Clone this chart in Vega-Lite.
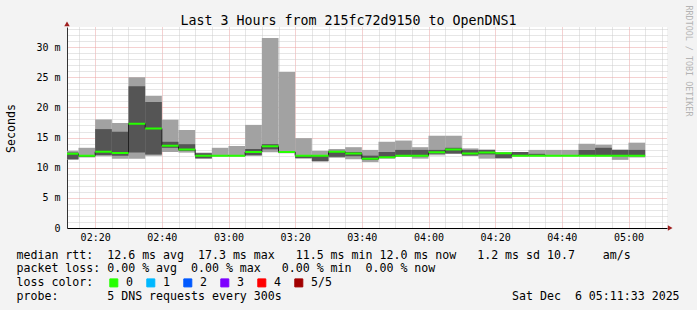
{
  "$schema": "https://vega.github.io/schema/vega-lite/v6.json",
  "width": 600,
  "height": 201,
  "autosize": {"type": "none"},
  "padding": {"left": 67, "top": 27, "right": 30, "bottom": 82},
  "background": "#f3f3f3",
  "config": {"view": {"fill": "#ffffff", "stroke": null}, "font": "DejaVu Sans Mono"},
  "data": {"values": [
    {"t": "2025-12-06T02:10:00", "e": "2025-12-06T02:15:00", "lo": 11.3, "q1": 11.4, "med": 12.3, "q3": 12.5, "hi": 12.8, "loss": "0"},
    {"t": "2025-12-06T02:15:00", "e": "2025-12-06T02:20:00", "lo": 11.7, "q1": 11.8, "med": 12.0, "q3": 12.1, "hi": 13.3, "loss": "0"},
    {"t": "2025-12-06T02:20:00", "e": "2025-12-06T02:25:00", "lo": 11.9, "q1": 12.1, "med": 12.65, "q3": 16.4, "hi": 18.0, "loss": "0"},
    {"t": "2025-12-06T02:25:00", "e": "2025-12-06T02:30:00", "lo": 11.5, "q1": 12.0, "med": 12.45, "q3": 15.95, "hi": 17.4, "loss": "0"},
    {"t": "2025-12-06T02:30:00", "e": "2025-12-06T02:35:00", "lo": 11.5, "q1": 12.5, "med": 17.3, "q3": 23.5, "hi": 25.0, "loss": "0"},
    {"t": "2025-12-06T02:35:00", "e": "2025-12-06T02:40:00", "lo": 12.0, "q1": 12.2, "med": 16.5, "q3": 20.9, "hi": 21.9, "loss": "0"},
    {"t": "2025-12-06T02:40:00", "e": "2025-12-06T02:45:00", "lo": 12.6, "q1": 13.3, "med": 13.65, "q3": 14.3, "hi": 17.95, "loss": "0"},
    {"t": "2025-12-06T02:45:00", "e": "2025-12-06T02:50:00", "lo": 12.5, "q1": 12.8, "med": 13.0, "q3": 13.9, "hi": 16.25, "loss": "0"},
    {"t": "2025-12-06T02:50:00", "e": "2025-12-06T02:55:00", "lo": 11.5, "q1": 11.55, "med": 12.0, "q3": 12.4, "hi": 12.5, "loss": "0"},
    {"t": "2025-12-06T02:55:00", "e": "2025-12-06T03:00:00", "lo": 11.9, "q1": 11.95, "med": 12.0, "q3": 12.1, "hi": 13.3, "loss": "0"},
    {"t": "2025-12-06T03:00:00", "e": "2025-12-06T03:05:00", "lo": 11.9, "q1": 11.95, "med": 12.0, "q3": 12.05, "hi": 13.6, "loss": "0"},
    {"t": "2025-12-06T03:05:00", "e": "2025-12-06T03:10:00", "lo": 12.0, "q1": 12.05, "med": 12.6, "q3": 13.1, "hi": 17.1, "loss": "0"},
    {"t": "2025-12-06T03:10:00", "e": "2025-12-06T03:15:00", "lo": 12.55, "q1": 13.05, "med": 13.55, "q3": 13.9, "hi": 31.5, "loss": "0"},
    {"t": "2025-12-06T03:15:00", "e": "2025-12-06T03:20:00", "lo": 12.4, "q1": 12.45, "med": 12.6, "q3": 12.7, "hi": 25.85, "loss": "0"},
    {"t": "2025-12-06T03:20:00", "e": "2025-12-06T03:25:00", "lo": 11.5, "q1": 11.6, "med": 12.0, "q3": 12.1, "hi": 14.9, "loss": "0"},
    {"t": "2025-12-06T03:25:00", "e": "2025-12-06T03:30:00", "lo": 11.0, "q1": 11.1, "med": 12.0, "q3": 12.1, "hi": 12.8, "loss": "0"},
    {"t": "2025-12-06T03:30:00", "e": "2025-12-06T03:35:00", "lo": 11.65, "q1": 11.8, "med": 12.65, "q3": 12.8, "hi": 13.1, "loss": "0"},
    {"t": "2025-12-06T03:35:00", "e": "2025-12-06T03:40:00", "lo": 11.4, "q1": 11.9, "med": 12.35, "q3": 12.6, "hi": 13.4, "loss": "0"},
    {"t": "2025-12-06T03:40:00", "e": "2025-12-06T03:45:00", "lo": 10.95, "q1": 11.3, "med": 11.5, "q3": 12.0, "hi": 12.95, "loss": "0"},
    {"t": "2025-12-06T03:45:00", "e": "2025-12-06T03:50:00", "lo": 11.5, "q1": 11.6, "med": 11.75, "q3": 12.6, "hi": 14.3, "loss": "0"},
    {"t": "2025-12-06T03:50:00", "e": "2025-12-06T03:55:00", "lo": 11.85, "q1": 11.9, "med": 12.0, "q3": 12.95, "hi": 14.5, "loss": "0"},
    {"t": "2025-12-06T03:55:00", "e": "2025-12-06T04:00:00", "lo": 11.5, "q1": 11.9, "med": 12.0, "q3": 12.95, "hi": 13.4, "loss": "0"},
    {"t": "2025-12-06T04:00:00", "e": "2025-12-06T04:05:00", "lo": 12.05, "q1": 12.3, "med": 12.55, "q3": 12.95, "hi": 15.3, "loss": "0"},
    {"t": "2025-12-06T04:05:00", "e": "2025-12-06T04:10:00", "lo": 12.3, "q1": 12.35, "med": 13.0, "q3": 13.3, "hi": 15.3, "loss": "0"},
    {"t": "2025-12-06T04:10:00", "e": "2025-12-06T04:15:00", "lo": 12.0, "q1": 12.0, "med": 12.35, "q3": 12.95, "hi": 13.2, "loss": "0"},
    {"t": "2025-12-06T04:15:00", "e": "2025-12-06T04:20:00", "lo": 11.5, "q1": 12.2, "med": 12.5, "q3": 12.95, "hi": 13.0, "loss": "0"},
    {"t": "2025-12-06T04:20:00", "e": "2025-12-06T04:25:00", "lo": 11.5, "q1": 11.6, "med": 12.4, "q3": 12.45, "hi": 12.5, "loss": "0"},
    {"t": "2025-12-06T04:25:00", "e": "2025-12-06T04:30:00", "lo": 11.9, "q1": 11.95, "med": 12.0, "q3": 12.6, "hi": 12.6, "loss": "0"},
    {"t": "2025-12-06T04:30:00", "e": "2025-12-06T04:35:00", "lo": 11.95, "q1": 12.0, "med": 12.0, "q3": 12.3, "hi": 12.95, "loss": "0"},
    {"t": "2025-12-06T04:35:00", "e": "2025-12-06T04:40:00", "lo": 11.95, "q1": 12.0, "med": 12.0, "q3": 12.05, "hi": 12.95, "loss": "0"},
    {"t": "2025-12-06T04:40:00", "e": "2025-12-06T04:45:00", "lo": 11.95, "q1": 12.0, "med": 12.0, "q3": 12.05, "hi": 12.95, "loss": "0"},
    {"t": "2025-12-06T04:45:00", "e": "2025-12-06T04:50:00", "lo": 11.95, "q1": 12.0, "med": 12.0, "q3": 12.95, "hi": 13.95, "loss": "0"},
    {"t": "2025-12-06T04:50:00", "e": "2025-12-06T04:55:00", "lo": 11.95, "q1": 12.0, "med": 12.0, "q3": 13.3, "hi": 13.8, "loss": "0"},
    {"t": "2025-12-06T04:55:00", "e": "2025-12-06T05:00:00", "lo": 11.3, "q1": 11.95, "med": 12.0, "q3": 12.95, "hi": 13.0, "loss": "0"},
    {"t": "2025-12-06T05:00:00", "e": "2025-12-06T05:05:00", "lo": 11.7, "q1": 11.9, "med": 12.0, "q3": 12.95, "hi": 14.15, "loss": "0"}
  ]},
  "resolve": {"axis": {"x": "independent", "y": "independent"}},
  "layer": [
    {
      "mark": {"type": "rect", "color": "#a2a2a2", "clip": true},
      "encoding": {
        "x": {"field": "t", "type": "temporal",
          "scale": {"domain": [{"year": 2025, "month": 12, "date": 6, "hours": 2, "minutes": 11, "seconds": 33}, {"year": 2025, "month": 12, "date": 6, "hours": 5, "minutes": 11, "seconds": 33}], "nice": false},
          "axis": {"orient": "top",
            "values": [
              {"year": 2025, "month": 12, "date": 6, "hours": 2, "minutes": 15},
              {"year": 2025, "month": 12, "date": 6, "hours": 2, "minutes": 25},
              {"year": 2025, "month": 12, "date": 6, "hours": 2, "minutes": 30},
              {"year": 2025, "month": 12, "date": 6, "hours": 2, "minutes": 35},
              {"year": 2025, "month": 12, "date": 6, "hours": 2, "minutes": 45},
              {"year": 2025, "month": 12, "date": 6, "hours": 2, "minutes": 50},
              {"year": 2025, "month": 12, "date": 6, "hours": 2, "minutes": 55},
              {"year": 2025, "month": 12, "date": 6, "hours": 3, "minutes": 5},
              {"year": 2025, "month": 12, "date": 6, "hours": 3, "minutes": 10},
              {"year": 2025, "month": 12, "date": 6, "hours": 3, "minutes": 15},
              {"year": 2025, "month": 12, "date": 6, "hours": 3, "minutes": 25},
              {"year": 2025, "month": 12, "date": 6, "hours": 3, "minutes": 30},
              {"year": 2025, "month": 12, "date": 6, "hours": 3, "minutes": 35},
              {"year": 2025, "month": 12, "date": 6, "hours": 3, "minutes": 45},
              {"year": 2025, "month": 12, "date": 6, "hours": 3, "minutes": 50},
              {"year": 2025, "month": 12, "date": 6, "hours": 3, "minutes": 55},
              {"year": 2025, "month": 12, "date": 6, "hours": 4, "minutes": 5},
              {"year": 2025, "month": 12, "date": 6, "hours": 4, "minutes": 10},
              {"year": 2025, "month": 12, "date": 6, "hours": 4, "minutes": 15},
              {"year": 2025, "month": 12, "date": 6, "hours": 4, "minutes": 25},
              {"year": 2025, "month": 12, "date": 6, "hours": 4, "minutes": 30},
              {"year": 2025, "month": 12, "date": 6, "hours": 4, "minutes": 35},
              {"year": 2025, "month": 12, "date": 6, "hours": 4, "minutes": 45},
              {"year": 2025, "month": 12, "date": 6, "hours": 4, "minutes": 50},
              {"year": 2025, "month": 12, "date": 6, "hours": 4, "minutes": 55},
              {"year": 2025, "month": 12, "date": 6, "hours": 5, "minutes": 5},
              {"year": 2025, "month": 12, "date": 6, "hours": 5, "minutes": 10}
            ],
            "grid": true, "gridColor": "#cccccc", "gridDash": [1, 1], "labels": false, "ticks": false, "domain": false,
            "title": "Last 3 Hours from 215fc72d9150 to OpenDNS1", "titleX": 281, "titleY": -3, "titleAlign": "center", "titleBaseline": "alphabetic", "titleFont": "DejaVu Sans Mono", "titleFontSize": 13.3, "titleFontWeight": "normal", "titleColor": "#000000"}},
        "x2": {"field": "e"},
        "y": {"field": "lo", "type": "quantitative",
          "scale": {"domain": [0, 33.33], "nice": false, "zero": false},
          "axis": {"orient": "right", "values": [1, 2, 3, 4, 6, 7, 8, 9, 11, 12, 13, 14, 16, 17, 18, 19, 21, 22, 23, 24, 26, 27, 28, 29, 31, 32, 33], "grid": true, "gridColor": "#cccccc", "gridDash": [1, 1], "labels": false, "ticks": false, "domain": false,
            "title": "RRDTOOL / TOBI OETIKER", "titleAngle": 90, "titleX": 21.3, "titleY": -22, "titleAlign": "left", "titleBaseline": "middle", "titleFont": "DejaVu Sans Mono", "titleFontSize": 8.4, "titleFontWeight": "normal", "titleColor": "#b4b4b4"}},
        "y2": {"field": "hi"}
      }
    },
    {
      "mark": {"type": "rect", "color": "#555555", "clip": true},
      "encoding": {
        "x": {"field": "t", "type": "temporal",
          "scale": {"domain": [{"year": 2025, "month": 12, "date": 6, "hours": 2, "minutes": 11, "seconds": 33}, {"year": 2025, "month": 12, "date": 6, "hours": 5, "minutes": 11, "seconds": 33}], "nice": false},
          "axis": {"orient": "bottom",
            "values": [
              {"year": 2025, "month": 12, "date": 6, "hours": 2, "minutes": 20},
              {"year": 2025, "month": 12, "date": 6, "hours": 2, "minutes": 40},
              {"year": 2025, "month": 12, "date": 6, "hours": 3, "minutes": 0},
              {"year": 2025, "month": 12, "date": 6, "hours": 3, "minutes": 20},
              {"year": 2025, "month": 12, "date": 6, "hours": 3, "minutes": 40},
              {"year": 2025, "month": 12, "date": 6, "hours": 4, "minutes": 0},
              {"year": 2025, "month": 12, "date": 6, "hours": 4, "minutes": 20},
              {"year": 2025, "month": 12, "date": 6, "hours": 4, "minutes": 40},
              {"year": 2025, "month": 12, "date": 6, "hours": 5, "minutes": 0}
            ],
            "format": "%H:%M", "grid": true, "gridColor": "#eba3a3", "gridDash": [1, 1],
            "labelFont": "DejaVu Sans Mono", "labelFontSize": 10, "labelColor": "#000000", "labelPadding": 4, "labelFlush": false, "labelOverlap": false,
            "ticks": false, "domain": true, "domainColor": "#000000",
            "title": ["median\u00a0rtt:\u00a0\u00a012.6\u00a0ms\u00a0avg\u00a0\u00a017.3\u00a0ms\u00a0max\u00a0\u00a0\u00a011.5\u00a0ms\u00a0min\u00a012.0\u00a0ms\u00a0now\u00a0\u00a0\u00a01.2\u00a0ms\u00a0sd\u00a010.7\u00a0\u00a0\u00a0\u00a0am/s",
                      "packet\u00a0loss:\u00a00.00\u00a0%\u00a0avg\u00a0\u00a00.00\u00a0%\u00a0max\u00a0\u00a0\u00a00.00\u00a0%\u00a0min\u00a0\u00a00.00\u00a0%\u00a0now",
                      "loss\u00a0color:",
                      "probe:\u00a0\u00a0\u00a0\u00a0\u00a0\u00a0\u00a05\u00a0DNS\u00a0requests\u00a0every\u00a0300s\u00a0\u00a0\u00a0\u00a0\u00a0\u00a0\u00a0\u00a0\u00a0\u00a0\u00a0\u00a0\u00a0\u00a0\u00a0\u00a0\u00a0\u00a0\u00a0\u00a0\u00a0\u00a0\u00a0\u00a0\u00a0\u00a0\u00a0\u00a0\u00a0\u00a0\u00a0\u00a0\u00a0Sat\u00a0Dec\u00a0\u00a06\u00a005:11:33\u00a02025"],
            "titleX": -51, "titleY": 30, "titleAlign": "left", "titleBaseline": "alphabetic", "titleFont": "DejaVu Sans Mono", "titleFontSize": 11.6, "titleFontWeight": "normal", "titleColor": "#000000", "titleLineHeight": 13.7}},
        "x2": {"field": "e"},
        "y": {"field": "q1", "type": "quantitative",
          "scale": {"domain": [0, 33.33], "nice": false, "zero": false},
          "axis": {"orient": "left", "values": [0, 5, 10, 15, 20, 25, 30], "grid": true, "gridColor": "#eba3a3", "gridDash": [1, 1],
            "labelExpr": "datum.value == 0 ? '0' : datum.value + ' m'", "labelFont": "DejaVu Sans Mono", "labelFontSize": 10, "labelColor": "#000000", "labelPadding": 7, "labelFlush": false, "labelOverlap": false,
            "ticks": false, "domain": true, "domainColor": "#333333",
            "title": "Seconds", "titleAngle": -90, "titleX": -53, "titleY": 101, "titleAlign": "center", "titleBaseline": "alphabetic", "titleFont": "DejaVu Sans Mono", "titleFontSize": 11.6, "titleFontWeight": "normal", "titleColor": "#000000"}},
        "y2": {"field": "q3"}
      }
    },
    {
      "mark": {"type": "line", "interpolate": "step-after", "color": "#202020", "strokeWidth": 1, "clip": true},
      "encoding": {
        "x": {"field": "t", "type": "temporal", "scale": {"domain": [{"year": 2025, "month": 12, "date": 6, "hours": 2, "minutes": 11, "seconds": 33}, {"year": 2025, "month": 12, "date": 6, "hours": 5, "minutes": 11, "seconds": 33}], "nice": false}, "axis": null},
        "y": {"field": "med", "type": "quantitative", "scale": {"domain": [0, 33.33], "nice": false, "zero": false}, "axis": null}
      }
    },
    {
      "mark": {"type": "rect", "strokeWidth": 2, "clip": true},
      "encoding": {
        "x": {"field": "t", "type": "temporal", "scale": {"domain": [{"year": 2025, "month": 12, "date": 6, "hours": 2, "minutes": 11, "seconds": 33}, {"year": 2025, "month": 12, "date": 6, "hours": 5, "minutes": 11, "seconds": 33}], "nice": false}, "axis": null},
        "x2": {"field": "e"},
        "y": {"field": "med", "type": "quantitative", "scale": {"domain": [0, 33.33], "nice": false, "zero": false}, "axis": null},
        "y2": {"field": "med"},
        "color": {"field": "loss", "type": "nominal",
          "scale": {"domain": ["0", "1", "2", "3", "4", "5/5"], "range": ["#26ff00", "#00b8ff", "#0059ff", "#7e00ff", "#ff0000", "#a10000"]},
          "legend": {"title": null, "orient": "none", "legendX": 41, "legendY": 250, "direction": "horizontal",
            "labelFont": "DejaVu Sans Mono", "labelFontSize": 11.6, "labelColor": "#000000", "labelOffset": 6.5,
            "symbolType": "square", "symbolSize": 64, "symbolStrokeColor": "#000000", "symbolStrokeWidth": 1, "symbolOpacity": 1,
            "columnPadding": 10, "padding": 0}},
        "stroke": {"field": "loss", "type": "nominal",
          "scale": {"domain": ["0", "1", "2", "3", "4", "5/5"], "range": ["#26ff00", "#00b8ff", "#0059ff", "#7e00ff", "#ff0000", "#a10000"]},
          "legend": null}
      }
    },
    {
      "data": {"values": [{"t": "2025-12-06T05:12:30", "v": 0, "shape": "triangle-right"}, {"t": "2025-12-06T02:11:33", "v": 33.83, "shape": "triangle-up"}]},
      "mark": {"type": "point", "filled": true, "size": 30, "color": "#a02020", "opacity": 1, "clip": false},
      "encoding": {
        "x": {"field": "t", "type": "temporal", "scale": {"domain": [{"year": 2025, "month": 12, "date": 6, "hours": 2, "minutes": 11, "seconds": 33}, {"year": 2025, "month": 12, "date": 6, "hours": 5, "minutes": 11, "seconds": 33}], "nice": false}, "axis": null},
        "y": {"field": "v", "type": "quantitative", "scale": {"domain": [0, 33.33], "nice": false, "zero": false}, "axis": null},
        "shape": {"field": "shape", "type": "nominal", "scale": null, "legend": null}
      }
    }
  ]
}
